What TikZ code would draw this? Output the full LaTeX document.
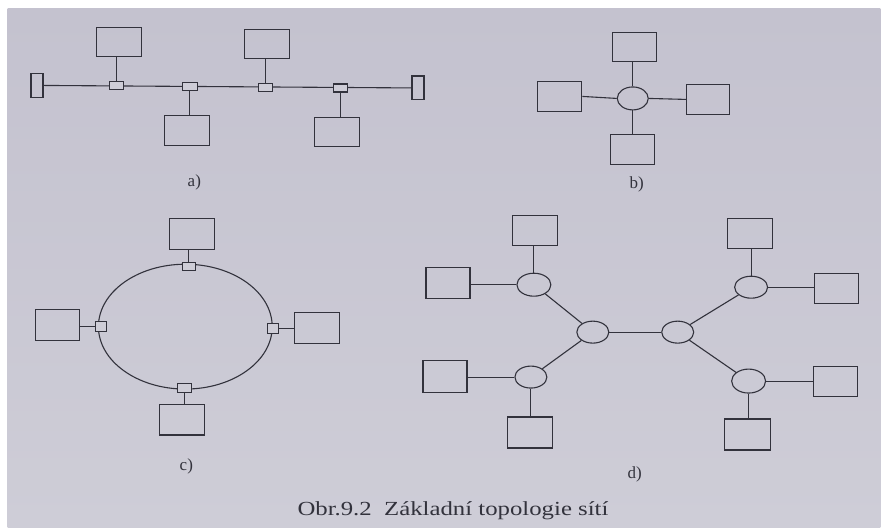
\documentclass[tikz,border=0pt]{standalone}
\usepackage{fontspec}
\setmainfont{Liberation Serif}
\usetikzlibrary{shapes.geometric}
\definecolor{paper}{RGB}{206,205,215}
\definecolor{paperTop}{RGB}{196,194,207}
\definecolor{ink}{RGB}{50,50,60}
\tikzset{
  every path/.style={line width=1.1pt, draw=ink},
  station/.style={draw=ink, line width=1.1pt, rectangle, inner sep=0pt, minimum width=45pt, minimum height=30pt},
  tap/.style={draw=ink, line width=1.1pt, rectangle, inner sep=0pt, minimum width=14pt, minimum height=8pt},
  term/.style={draw=ink, line width=1.1pt, rectangle, inner sep=0pt, minimum width=12pt, minimum height=24pt},
  hub/.style={draw=ink, line width=1.1pt, ellipse, inner sep=0pt, minimum width=33pt, minimum height=23pt},
  sublabel/.style={text=ink, font=\fontsize{17}{17}\selectfont, inner sep=0pt},
}
\begin{document}
\begin{tikzpicture}[x=1pt, y=-1pt]
% paper
\useasboundingbox (0,0) rectangle (881,528);
\fill[white] (0,0) rectangle (881,528);
\shade[top color=paperTop, bottom color=paper, draw=none] (7,8) rectangle (881,528);

% ---- a) bus ----
\node[term] (tL) at (36.5,85) {};
\node[term] (tR) at (418,87.5) {};
\draw (tL.east) -- (tR.west);
\node[tap, fill=paper] (ta1) at (116,85.5) {};
\node[tap, fill=paper, minimum width=15pt] (ta2) at (189.5,86) {};
\node[tap, fill=paper] (ta3) at (265,86.8) {};
\node[tap, fill=paper] (ta4) at (340,87.6) {};
\node[station, minimum height=29pt] (a1) at (118.5,41.5) {};
\node[station] (a2) at (186.5,130) {};
\node[station, minimum height=29pt] (a3) at (266.5,43.5) {};
\node[station, minimum height=29pt] (a4) at (336.5,131.5) {};
\draw (a1.south -| ta1) -- (ta1.north);
\draw (a2.north -| ta2) -- (ta2.south);
\draw (a3.south -| ta3) -- (ta3.north);
\draw (a4.north -| ta4) -- (ta4.south);
\node[sublabel] (la) at (194,182) {a)};

% ---- b) star ----
\node[hub, minimum width=31pt] (bh) at (633,98) {};
\node[station, minimum width=44pt, minimum height=29pt] (bT) at (635,46.5) {};
\node[station, minimum width=44pt] (bL) at (560,96) {};
\node[station, minimum width=43pt] (bR) at (708.5,99) {};
\node[station, minimum width=44pt] (bB) at (633,149) {};
\draw (bh.north) -- (bh.north |- bT.south);
\draw (bh.south) -- (bh.south |- bB.north);
\draw (bh.west) -- (bL.east);
\draw (bh.east) -- (bR.west);
\node[sublabel] (lb) at (637,184) {b)};

% ---- c) ring ----
\node[draw=ink, line width=1.1pt, ellipse, inner sep=0pt, minimum width=174pt, minimum height=125pt] (ring) at (185,326.5) {};
\node[tap, fill=paper, minimum width=13pt] (ctT) at (188.5,266) {};
\node[tap, fill=paper, minimum width=11pt, minimum height=10pt] (ctL) at (100.5,326) {};
\node[tap, fill=paper, minimum width=11pt, minimum height=10pt] (ctR) at (272.5,328) {};
\node[tap, fill=paper, minimum height=9pt] (ctB) at (184,387.5) {};
\node[station, minimum height=31pt] (cT) at (191.5,233.5) {};
\node[station, minimum width=44pt, minimum height=31pt] (cL) at (57,324.5) {};
\node[station, minimum height=31pt] (cR) at (316.5,327.5) {};
\node[station, minimum height=31pt] (cB) at (181.5,419.5) {};
\draw (ctT.north) -- (ctT.north |- cT.south);
\draw (ctB.south) -- (ctB.south |- cB.north);
\draw (ctL.west) -- (ctL.west -| cL.east);
\draw (ctR.east) -- (ctR.east -| cR.west);
\node[sublabel] (lc) at (186,466) {c)};

% ---- d) tree ----
\node[hub, minimum width=32pt, minimum height=22pt] (dC1) at (593,332) {};
\node[hub, minimum width=32pt, minimum height=22pt] (dC2) at (678,332) {};
\node[hub, minimum width=34pt] (dUL) at (534,284.5) {};
\node[hub, minimum width=32pt, minimum height=22pt] (dLL) at (531,377) {};
\node[hub, minimum width=33pt, minimum height=22pt] (dUR) at (751.5,287) {};
\node[hub, minimum width=34pt, minimum height=24pt] (dLR) at (749,381) {};
\node[station] (dULt) at (535.5,230) {};
\node[station, minimum width=44pt, minimum height=31pt] (dULl) at (448,282.5) {};
\node[station, minimum width=44pt, minimum height=32pt] (dLLl) at (445,376) {};
\node[station, minimum height=31pt] (dLLb) at (530.5,432.5) {};
\node[station] (dURt) at (750.5,233) {};
\node[station, minimum width=44pt] (dURr) at (837,288) {};
\node[station, minimum width=44pt] (dLRr) at (836,381) {};
\node[station, minimum width=46pt, minimum height=31pt] (dLRb) at (748,434.5) {};
\draw (dC1) -- (dC2);
\draw (dC1) -- (dUL);
\draw (dC1) -- (dLL);
\draw (dC2) -- (dUR);
\draw (dC2) -- (dLR);
\draw (dUL.north) -- (dUL.north |- dULt.south);
\draw (dUL.west) -- (dUL.west -| dULl.east);
\draw (dLL.west) -- (dLL.west -| dLLl.east);
\draw (dLL.south) -- (dLL.south |- dLLb.north);
\draw (dUR.north) -- (dUR.north |- dURt.south);
\draw (dUR.east) -- (dUR.east -| dURr.west);
\draw (dLR.east) -- (dLR.east -| dLRr.west);
\draw (dLR.south) -- (dLR.south |- dLRb.north);
\node[sublabel] (ld) at (635,474) {d)};

% ---- caption ----
\node[text=ink, inner sep=0pt] (cap) at (453,511) {\scalebox{1.24}[1]{\fontsize{20}{20}\selectfont Obr.9.2\ \ Základní topologie sítí}};
\end{tikzpicture}
\end{document}
